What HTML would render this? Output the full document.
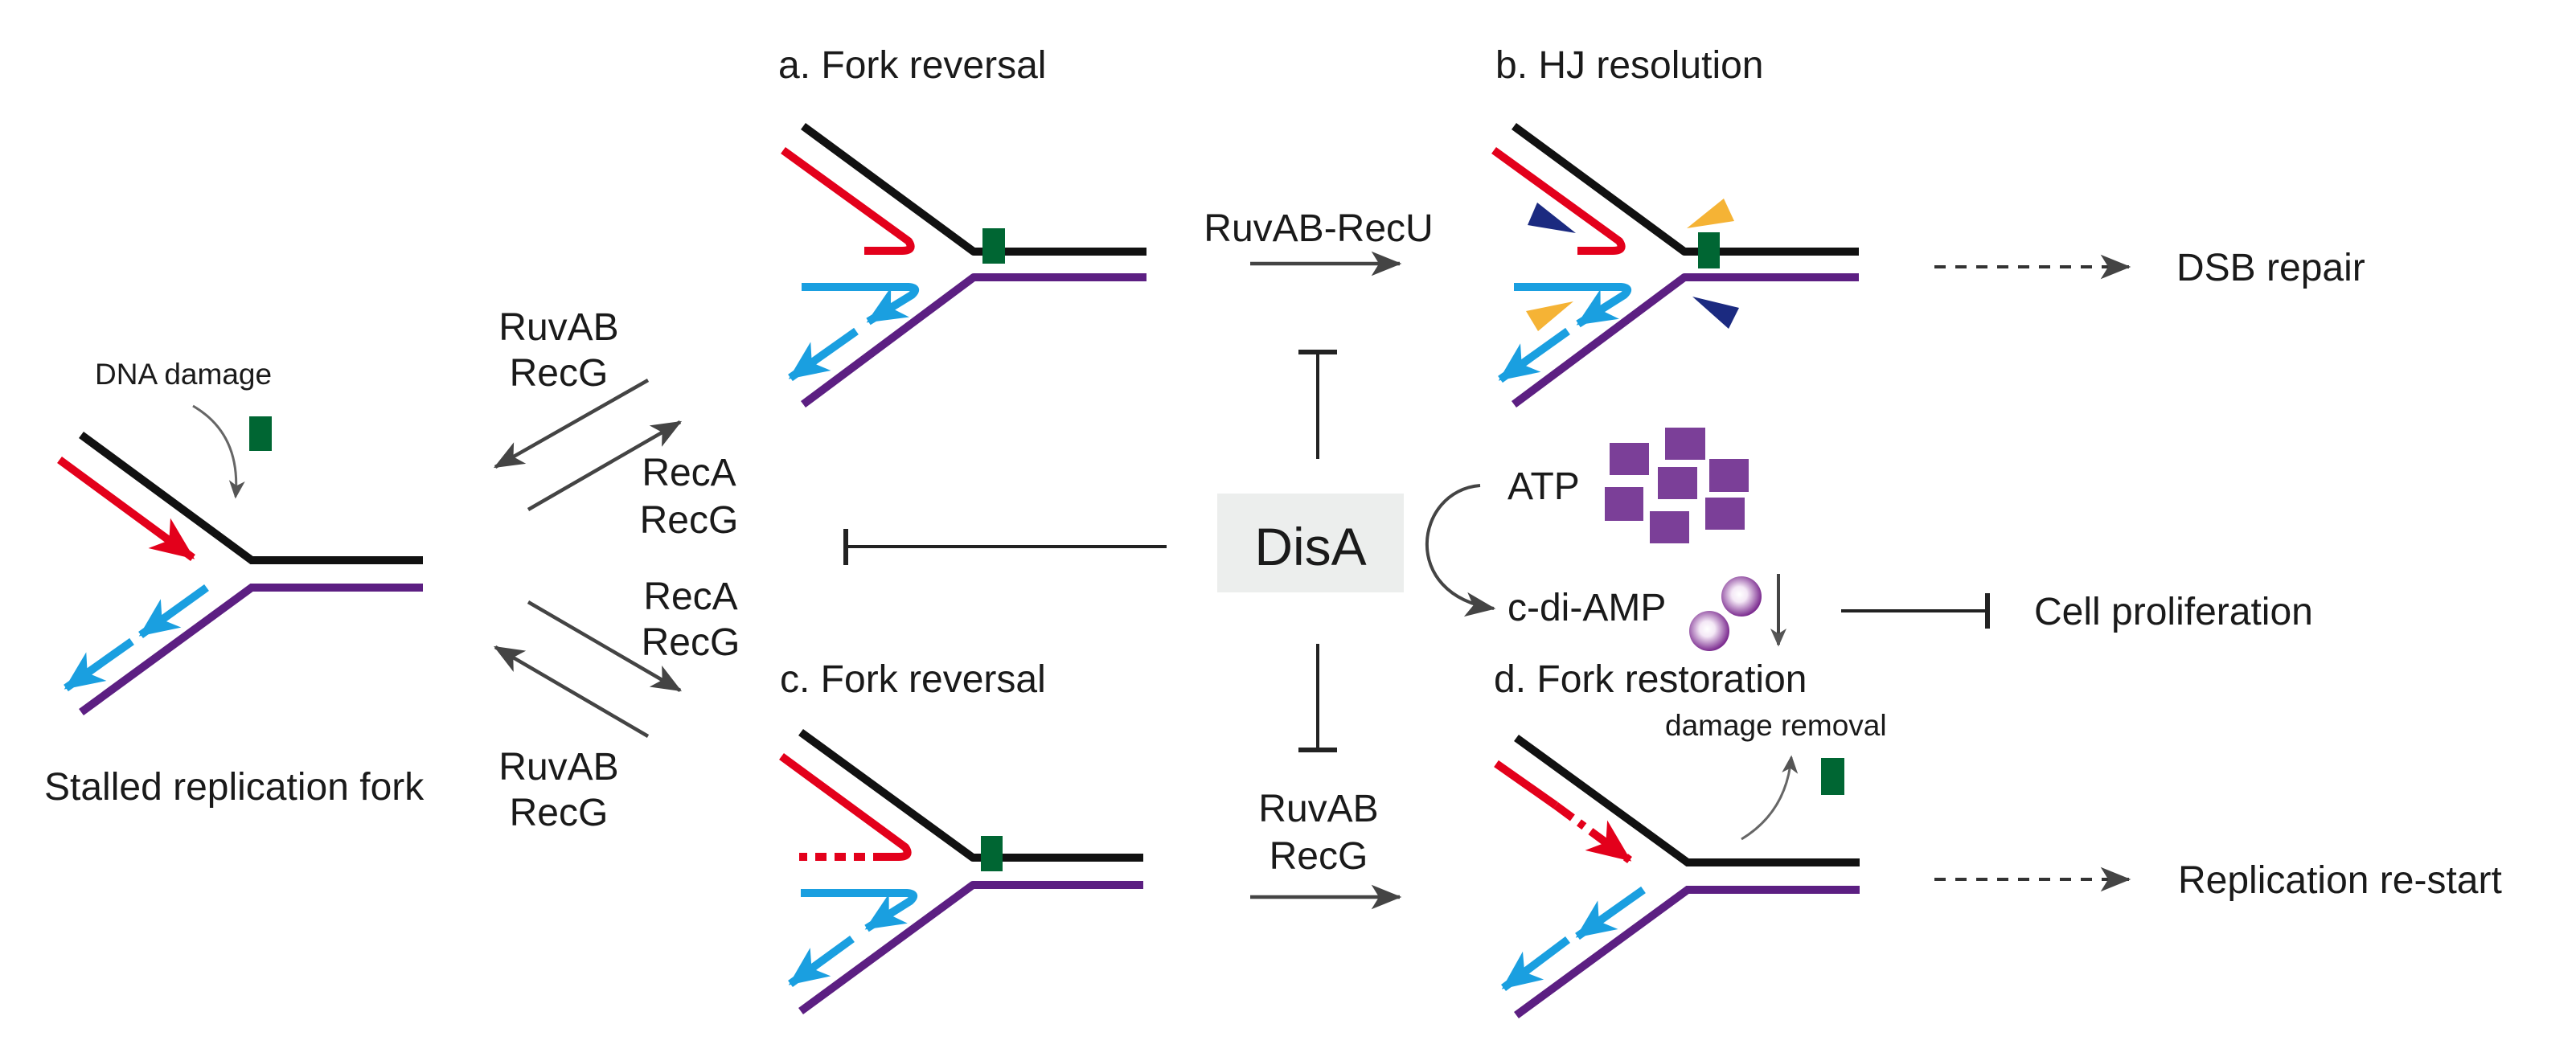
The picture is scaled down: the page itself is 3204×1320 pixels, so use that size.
<!DOCTYPE html>
<html><head><meta charset="utf-8"><style>
html,body{margin:0;padding:0;background:#fff;}
svg{display:block;}
text{font-family:"Liberation Sans",Arial,sans-serif;fill:#1a1a1a;}
</style></head><body>
<svg width="3204" height="1320" viewBox="0 0 3204 1320" xmlns="http://www.w3.org/2000/svg">
<defs>
<marker id="hb" markerUnits="userSpaceOnUse" markerWidth="60" markerHeight="60" refX="0" refY="0" viewBox="-40 -20 44 40" orient="auto" overflow="visible"><path d="M2,0 L-34,-16 L-24,0 L-34,16 Z" fill="#1a9fe0"/></marker>
<marker id="hr" markerUnits="userSpaceOnUse" markerWidth="60" markerHeight="60" refX="0" refY="0" viewBox="-40 -20 44 40" orient="auto" overflow="visible"><path d="M2,0 L-38,-17 L-27,0 L-38,17 Z" fill="#e3001b"/></marker>
<marker id="hg" markerUnits="userSpaceOnUse" markerWidth="40" markerHeight="40" refX="0" refY="0" viewBox="-30 -15 34 30" orient="auto" overflow="visible"><path d="M2,0 L-30,-13 L-22,0 L-30,13 Z" fill="#444"/></marker>
<marker id="hs" markerUnits="userSpaceOnUse" markerWidth="30" markerHeight="30" refX="0" refY="0" viewBox="-20 -10 24 20" orient="auto" overflow="visible"><path d="M2,0 L-16,-8 L-11,0 L-16,8 Z" fill="#555"/></marker>
<radialGradient id="sph" cx="0.45" cy="0.45" r="0.55"><stop offset="0" stop-color="#fff"/><stop offset="0.35" stop-color="#f4e8f6"/><stop offset="1" stop-color="#7b2b8f"/></radialGradient>
</defs>

<!-- Stalled fork -->
<g fill="none" stroke-width="10">
<polyline points="101,541 313,697 526,697" stroke="#111"/>
<polyline points="101,886 313,731 526,731" stroke="#5c1f82"/>
<line x1="74" y1="572" x2="240" y2="694" stroke="#e3001b" marker-end="url(#hr)"/>
<line x1="257" y1="731" x2="175" y2="790" stroke="#1a9fe0" marker-end="url(#hb)"/>
<line x1="164" y1="798" x2="82" y2="856" stroke="#1a9fe0" marker-end="url(#hb)"/>
</g>
<rect x="310" y="518" width="28" height="43" fill="#006633"/>
<text x="118" y="478" font-size="37">DNA damage</text>
<path d="M240,505 Q300,540 293,618" fill="none" stroke="#666" stroke-width="3" marker-end="url(#hs)"/>
<text x="55" y="995" font-size="48">Stalled replication fork</text>

<!-- reaction arrows -->
<g stroke="#444" stroke-width="4.5" fill="none">
<line x1="806" y1="473" x2="616" y2="581" marker-end="url(#hg)"/>
<line x1="657" y1="634" x2="846" y2="525" marker-end="url(#hg)"/>
<line x1="657" y1="749" x2="846" y2="859" marker-end="url(#hg)"/>
<line x1="806" y1="916" x2="616" y2="805" marker-end="url(#hg)"/>
</g>
<g font-size="48" text-anchor="middle">
<text x="695" y="423">RuvAB</text><text x="695" y="480">RecG</text>
<text x="857" y="604">RecA</text><text x="857" y="663">RecG</text>
<text x="859" y="758">RecA</text><text x="859" y="815">RecG</text>
<text x="695" y="970">RuvAB</text><text x="695" y="1027">RecG</text>
</g>

<!-- a fork -->
<text x="968" y="97" font-size="48">a. Fork reversal</text>
<g fill="none" stroke-width="10" stroke-linejoin="round">
<polyline points="999,157 1211,313 1426,313" stroke="#111"/>
<polyline points="999,503 1211,345 1426,345" stroke="#5c1f82"/>
<path d="M974,187 L1130,300 Q1138,312 1122,312 L1075,312" stroke="#e3001b"/>
<path d="M997,357 L1130,357 Q1144,358 1134,367 L1080,400" stroke="#1a9fe0" marker-end="url(#hb)"/>
<line x1="1065" y1="412" x2="983" y2="470" stroke="#1a9fe0" marker-end="url(#hb)"/>
</g>
<rect x="1222" y="284" width="28" height="44" fill="#006633"/>

<!-- RuvAB-RecU -->
<text x="1640" y="300" font-size="48" text-anchor="middle">RuvAB-RecU</text>
<line x1="1555" y1="328" x2="1741" y2="328" stroke="#444" stroke-width="4.5" marker-end="url(#hg)"/>

<!-- b fork -->
<text x="1860" y="97" font-size="48">b. HJ resolution</text>
<g fill="none" stroke-width="10" stroke-linejoin="round">
<polyline points="1883,157 2095,313 2312,313" stroke="#111"/>
<polyline points="1883,503 2095,345 2312,345" stroke="#5c1f82"/>
<path d="M1858,187 L2014,300 Q2022,312 2006,312 L1962,312" stroke="#e3001b"/>
<path d="M1883,357 L2016,357 Q2030,358 2020,367 L1963,403" stroke="#1a9fe0" marker-end="url(#hb)"/>
<line x1="1950" y1="412" x2="1866" y2="472" stroke="#1a9fe0" marker-end="url(#hb)"/>
</g>
<rect x="2112" y="289" width="27" height="45" fill="#006633"/>
<polygon points="1900,280 1960,290 1912,252" fill="#1b2a80"/>
<polygon points="2098,284 2157,275 2144,247" fill="#f5b335"/>
<polygon points="1898,387 1957,375 1913,412" fill="#f5b335"/>
<polygon points="2105,369 2163,383 2150,409" fill="#1b2a80"/>

<!-- DSB repair -->
<line x1="2406" y1="332" x2="2648" y2="332" stroke="#333" stroke-width="4" stroke-dasharray="14,12" marker-end="url(#hg)"/>
<text x="2707" y="349" font-size="48">DSB repair</text>

<!-- DisA -->
<rect x="1514" y="614" width="232" height="123" fill="#eceeed"/>
<text x="1630" y="703" font-size="66" text-anchor="middle">DisA</text>
<g stroke="#222" stroke-width="4" fill="none">
<line x1="1639" y1="571" x2="1639" y2="438"/><line x1="1615" y1="438" x2="1663" y2="438" stroke-width="6"/>
<line x1="1639" y1="801" x2="1639" y2="933"/><line x1="1615" y1="933" x2="1663" y2="933" stroke-width="6"/>
<line x1="1451" y1="680" x2="1052" y2="680"/><line x1="1052" y1="658" x2="1052" y2="703" stroke-width="6"/>
<line x1="2290" y1="760" x2="2472" y2="760"/><line x1="2472" y1="738" x2="2472" y2="782" stroke-width="6"/>
</g>
<path d="M1841,604 C1760,610 1740,740 1858,757" fill="none" stroke="#444" stroke-width="4" marker-end="url(#hg)"/>
<text x="1875" y="621" font-size="48">ATP</text>
<text x="1875" y="772" font-size="48">c-di-AMP</text>
<g fill="#7b3f98">
<rect x="2002" y="551" width="49" height="40"/><rect x="2071" y="532" width="50" height="40"/>
<rect x="2126" y="571" width="49" height="41"/><rect x="2062" y="581" width="49" height="40"/>
<rect x="1996" y="606" width="48" height="42"/><rect x="2121" y="619" width="49" height="40"/>
<rect x="2052" y="636" width="49" height="40"/>
</g>
<circle cx="2166" cy="742" r="25" fill="url(#sph)"/>
<circle cx="2126" cy="785" r="25" fill="url(#sph)"/>
<line x1="2212" y1="714" x2="2212" y2="802" stroke="#444" stroke-width="4" marker-end="url(#hs)"/>
<text x="2530" y="777" font-size="48">Cell proliferation</text>

<!-- c fork -->
<text x="970" y="861" font-size="48">c. Fork reversal</text>
<g fill="none" stroke-width="10" stroke-linejoin="round">
<polyline points="996,911 1210,1067 1422,1067" stroke="#111"/>
<polyline points="996,1258 1210,1101 1422,1101" stroke="#5c1f82"/>
<path d="M972,941 L1126,1054 Q1134,1066 1118,1066 L1100,1066" stroke="#e3001b"/>
<line x1="1100" y1="1066" x2="994" y2="1066" stroke="#e3001b" stroke-dasharray="14,10"/>
<path d="M996,1111 L1128,1111 Q1142,1112 1132,1121 L1078,1155" stroke="#1a9fe0" marker-end="url(#hb)"/>
<line x1="1060" y1="1168" x2="983" y2="1224" stroke="#1a9fe0" marker-end="url(#hb)"/>
</g>
<rect x="1220" y="1040" width="27" height="44" fill="#006633"/>

<text x="1640" y="1022" font-size="48" text-anchor="middle">RuvAB</text>
<text x="1640" y="1081" font-size="48" text-anchor="middle">RecG</text>
<line x1="1555" y1="1116" x2="1741" y2="1116" stroke="#444" stroke-width="4.5" marker-end="url(#hg)"/>

<!-- d fork -->
<text x="1858" y="861" font-size="48">d. Fork restoration</text>
<text x="2071" y="915" font-size="37">damage removal</text>
<rect x="2265" y="943" width="29" height="46" fill="#006633"/>
<path d="M2166,1044 Q2222,1010 2228,942" fill="none" stroke="#666" stroke-width="3" marker-end="url(#hs)"/>
<g fill="none" stroke-width="10">
<polyline points="1886,918 2099,1073 2313,1073" stroke="#111"/>
<polyline points="1886,1263 2099,1107 2313,1107" stroke="#5c1f82"/>
<line x1="1861" y1="950" x2="1935" y2="1002" stroke="#e3001b"/>
<line x1="1935" y1="1002" x2="2027" y2="1070" stroke="#e3001b" stroke-dasharray="26,10,8,10" marker-end="url(#hr)"/>
<line x1="2044" y1="1107" x2="1962" y2="1165" stroke="#1a9fe0" marker-end="url(#hb)"/>
<line x1="1950" y1="1169" x2="1870" y2="1229" stroke="#1a9fe0" marker-end="url(#hb)"/>
</g>
<line x1="2406" y1="1094" x2="2648" y2="1094" stroke="#333" stroke-width="4" stroke-dasharray="14,12" marker-end="url(#hg)"/>
<text x="2709" y="1111" font-size="48">Replication re-start</text>
</svg>
</body></html>
